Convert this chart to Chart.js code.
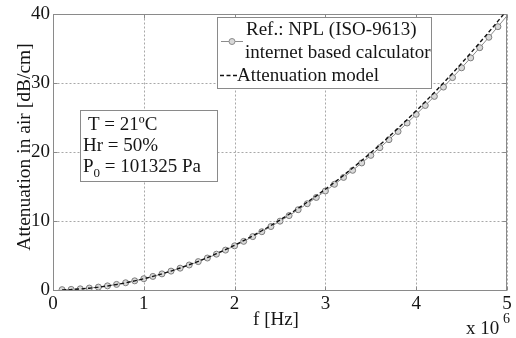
<!DOCTYPE html>
<html>
<head>
<meta charset="utf-8">
<script src="https://cdn.jsdelivr.net/npm/chart.js@4/dist/chart.umd.min.js"></script>
<style>
html,body{margin:0;padding:0;background:#fff;}
#wrap{width:516px;height:338px;position:relative;}
</style>
</head>
<body>
<div id="wrap"><canvas id="c" width="516" height="338"></canvas></div>
<script>
// frequency in units of 10^6 Hz
const freq = [0.1,0.2,0.3,0.4,0.5,0.6,0.7,0.8,0.9,1.0,
              1.1,1.2,1.3,1.4,1.5,1.6,1.7,1.8,1.9,2.0,
              2.1,2.2,2.3,2.4,2.5,2.6,2.7,2.8,2.9,3.0,
              3.1,3.2,3.3,3.4,3.5,3.6,3.7,3.8,3.9,4.0,
              4.1,4.2,4.3,4.4,4.5,4.6,4.7,4.8,4.9,5.0];
// Ref.: NPL (ISO-9613) internet based calculator [dB/cm]
const refNPL = [0.05,0.09,0.17,0.28,0.42,0.60,0.81,1.05,1.33,1.64,
                1.97,2.34,2.74,3.17,3.63,4.12,4.64,5.20,5.79,6.41,
                7.06,7.75,8.46,9.21,9.99,10.80,11.65,12.52,13.43,14.37,
                15.34,16.34,17.37,18.44,19.54,20.66,21.82,23.01,24.24,25.49,
                26.78,28.10,29.45,30.83,32.25,33.69,35.17,36.68,38.22,39.80];
// Attenuation model [dB/cm]
const model = [0.02,0.07,0.15,0.26,0.41,0.59,0.80,1.04,1.32,1.63,
               1.97,2.34,2.75,3.19,3.66,4.16,4.70,5.27,5.87,6.50,
               7.17,7.87,8.60,9.36,10.16,10.99,11.85,12.74,13.67,14.63,
               15.62,16.64,17.70,18.79,19.91,21.06,22.25,23.47,24.72,26.00,
               27.32,28.67,30.05,31.46,32.91,34.39,35.90,37.44,39.02,40.63];
const xTicks = [0,1,2,3,4,5];
const yTicks = [0,10,20,30,40];

const FONT = "'Liberation Serif','Times New Roman',serif";
const TXT = '#151515';
const FS = 19;

const overlay = {
  id: 'overlay',
  beforeDatasetsDraw(chart) {
    const {ctx, chartArea: a, scales} = chart;
    const L = Math.round(a.left) + 0.5, R = Math.round(a.right) - 0.5;
    const T = Math.round(a.top) + 0.5, B = Math.round(a.bottom) + 0.5;
    ctx.save();
    // dotted grid from the scales
    ctx.strokeStyle = '#a8a8a8';
    ctx.lineWidth = 1;
    ctx.setLineDash([2, 2]);
    xTicks.forEach(v => {
      const x = Math.round(scales.x.getPixelForValue(v)) + 0.5;
      ctx.beginPath(); ctx.moveTo(x, T); ctx.lineTo(x, B); ctx.stroke();
    });
    yTicks.forEach(v => {
      const y = Math.round(scales.y.getPixelForValue(v)) + 0.5;
      ctx.beginPath(); ctx.moveTo(L, y); ctx.lineTo(R, y); ctx.stroke();
    });
    ctx.setLineDash([]);
    // frame
    ctx.strokeStyle = '#8a8a8a';
    ctx.strokeRect(L, T, R - L, B - T);
    // inward tick marks on all four sides
    ctx.beginPath();
    xTicks.forEach(v => {
      const x = Math.round(scales.x.getPixelForValue(v)) + 0.5;
      ctx.moveTo(x, B); ctx.lineTo(x, B - 4);
      ctx.moveTo(x, T); ctx.lineTo(x, T + 4);
    });
    yTicks.forEach(v => {
      const y = Math.round(scales.y.getPixelForValue(v)) + 0.5;
      ctx.moveTo(L, y); ctx.lineTo(L + 4, y);
      ctx.moveTo(R, y); ctx.lineTo(R - 4, y);
    });
    ctx.stroke();
    ctx.restore();
  },
  afterDraw(chart) {
    const {ctx} = chart;
    ctx.save();
    ctx.fillStyle = TXT;
    ctx.textBaseline = 'alphabetic';
    // y title
    ctx.save();
    ctx.font = '19.5px ' + FONT;
    ctx.translate(30, 147);
    ctx.rotate(-Math.PI / 2);
    ctx.textAlign = 'center';
    ctx.fillText('Attenuation in air [dB/cm]', 0, 0);
    ctx.restore();
    ctx.font = FS + 'px ' + FONT;
    // x title
    ctx.textAlign = 'center';
    ctx.fillText('f [Hz]', 276, 325);
    // exponent
    ctx.textAlign = 'left';
    ctx.fillText('x 10', 466, 334);
    ctx.font = '14px ' + FONT;
    ctx.fillText('6', 503, 323);

    // annotation box
    ctx.font = FS + 'px ' + FONT;
    ctx.fillStyle = '#fff';
    ctx.fillRect(80.5, 110.5, 137, 71);
    ctx.strokeStyle = '#8a8a8a';
    ctx.lineWidth = 1;
    ctx.strokeRect(80.5, 110.5, 137, 71);
    ctx.fillStyle = TXT;
    ctx.fillText('T = 21\u00BAC', 88, 130);
    ctx.fillText('Hr = 50%', 83, 151);
    ctx.fillText('P', 83, 172);
    const pw = ctx.measureText('P').width;
    ctx.font = '13px ' + FONT;
    ctx.fillText('0', 83 + pw, 177);
    const zw = ctx.measureText('0').width;
    ctx.font = FS + 'px ' + FONT;
    ctx.fillText(' = 101325 Pa', 83 + pw + zw, 172);

    // legend box
    ctx.fillStyle = '#fff';
    ctx.fillRect(217.5, 17.5, 214, 71);
    ctx.strokeRect(217.5, 17.5, 214, 71);
    ctx.fillStyle = TXT;
    ctx.fillText('Ref.: NPL (ISO-9613)', 246, 35);
    ctx.fillText('internet based calculator', 245, 58);
    ctx.fillText('Attenuation model', 237, 81);
    // sample gray line + circle
    ctx.strokeStyle = '#8c8c8c';
    ctx.lineWidth = 1;
    ctx.beginPath(); ctx.moveTo(221, 41.5); ctx.lineTo(243, 41.5); ctx.stroke();
    ctx.fillStyle = '#d9d9d9';
    ctx.beginPath(); ctx.arc(232, 41.5, 3, 0, Math.PI * 2); ctx.fill(); ctx.stroke();
    // sample dashed line
    ctx.strokeStyle = '#111';
    ctx.lineWidth = 1.3;
    ctx.setLineDash([4, 2.5]);
    ctx.beginPath(); ctx.moveTo(220, 75.5); ctx.lineTo(237, 75.5); ctx.stroke();
    ctx.restore();
  }
};

new Chart(document.getElementById('c'), {
  type: 'line',
  data: {
    datasets: [
      {
        label: 'Attenuation model',
        data: freq.map((f, i) => ({x: f, y: model[i]})),
        borderColor: '#111',
        borderWidth: 1.4,
        borderDash: [4, 2.5],
        pointRadius: 0,
        fill: false,
        tension: 0,
        order: 0
      },
      {
        label: 'Ref.: NPL (ISO-9613) internet based calculator',
        data: freq.map((f, i) => ({x: f, y: refNPL[i]})),
        borderColor: '#8c8c8c',
        borderWidth: 1,
        pointRadius: ctx => ctx.dataIndex === freq.length - 1 ? 0 : 3,
        pointBorderColor: '#7d7d7d',
        pointBackgroundColor: '#d9d9d9',
        pointBorderWidth: 1,
        fill: false,
        tension: 0,
        order: 1
      }
    ]
  },
  options: {
    responsive: false,
    animation: false,
    events: [],
    layout: {padding: {top: 12, right: 9, left: 0, bottom: 0}},
    plugins: {legend: {display: false}, tooltip: {enabled: false}, title: {display: false}},
    scales: {
      x: {
        type: 'linear',
        min: 0, max: 5,
        afterFit: s => { s.height = 48; },
        afterBuildTicks: s => { s.ticks = xTicks.map(v => ({value: v})); },
        ticks: {font: {family: FONT, size: FS}, color: TXT, padding: 3, maxRotation: 0,
                callback: v => String(v)},
        grid: {display: false, drawTicks: false},
        border: {display: false}
      },
      y: {
        type: 'linear',
        min: 0, max: 40,
        afterFit: s => { s.width = 53; },
        afterBuildTicks: s => { s.ticks = yTicks.map(v => ({value: v})); },
        ticks: {font: {family: FONT, size: FS}, color: TXT, padding: 3,
                callback: v => String(v)},
        grid: {display: false, drawTicks: false},
        border: {display: false}
      }
    }
  },
  plugins: [overlay]
});
</script>
</body>
</html>
